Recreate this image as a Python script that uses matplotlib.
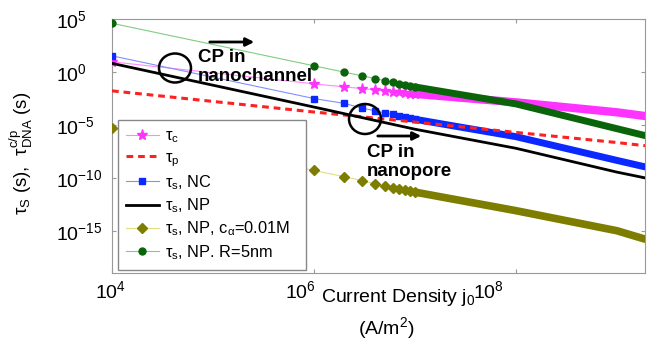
"""Spin/translocation time scales vs current density (log-log)."""

import matplotlib

matplotlib.use("Agg")
import matplotlib.pyplot as plt
from matplotlib.lines import Line2D
from matplotlib.patches import Ellipse
from matplotlib.transforms import ScaledTranslation

plt.rcParams["font.family"] = ["Liberation Sans", "DejaVu Sans"]
plt.rcParams["mathtext.fontset"] = "custom"
plt.rcParams["mathtext.rm"] = "Liberation Sans"
plt.rcParams["mathtext.it"] = "Liberation Sans:italic"
plt.rcParams["mathtext.default"] = "regular"

# current density j0 (A/m^2): separate markers, then the dense part as a band
j_marks = [1e4, 1e6, 2e6, 3e6, 4e6, 5e6, 6e6, 7e6, 8e6, 9e6, 1e7]
j_band = [1e7, 1e8, 1e9, 1.9e9]
j_line = [1e4, 1e6, 1e7, 1e8, 1e9, 1.9e9]

tau_c_marks = [9.5e0, 7.9e-2, 4.0e-2, 2.8e-2, 2.1e-2, 1.7e-2, 1.4e-2, 1.2e-2, 1.07e-2, 9.5e-3, 8.9e-3]
tau_c_band = [8.9e-3, 1.4e-3, 1.6e-4, 7.1e-5]

tau_p_line = [1.7e-2, 1.7e-4, 1.9e-5, 2.0e-6, 2.2e-7, 1.1e-7]

tau_nc_marks = [3.5e1, 3.2e-3, 1.1e-3, 4.0e-4, 2.2e-4, 1.4e-4, 1.0e-4, 7.4e-5, 5.6e-5, 4.5e-5, 3.5e-5]
tau_nc_band = [3.5e-5, 7.9e-7, 4.5e-9, 1.1e-9]

tau_np_line = [6.8e0, 5.0e-4, 4.0e-6, 6.3e-8, 3.5e-10, 1.0e-10]

tau_conc_marks = [5.1e-6, 5.0e-10, 1.3e-10, 5.5e-11, 2.8e-11, 1.7e-11, 1.2e-11, 8.9e-12, 6.9e-12, 5.5e-12, 4.5e-12]
tau_conc_band = [4.5e-12, 7.9e-14, 1.0e-15, 1.6e-16]

tau_r5_marks = [4.2e4, 4.0e0, 1.0e0, 4.5e-1, 2.5e-1, 1.6e-1, 1.1e-1, 8.1e-2, 6.3e-2, 4.9e-2, 4.0e-2]
tau_r5_band = [4.0e-2, 1.0e-3, 4.5e-6, 1.0e-6]

W, H = 655, 343


def fx(px):
    return px / W


def fy(py):
    return 1 - py / H


fig = plt.figure(figsize=(W / 100, H / 100), dpi=100)
ax = fig.add_axes([fx(112), fy(273), fx(645) - fx(112), fy(19.3) - fy(273)])
ax.set_xscale("log")
ax.set_yscale("log")

marker_series = [
    (tau_c_marks, tau_c_band, "#ff33ff", "#ff88ff", "*", 8, 6.0, r"$\tau_c$"),
    (tau_nc_marks, tau_nc_band, "#0a28ff", "#8090ff", "s", 5, 5.0, r"$\tau_s$, NC"),
    (tau_conc_marks, tau_conc_band, "#7d7d00", "#e0e080", "D", 5, 5.5, r"$\tau_s$, NP, $c_\alpha$=0.01M"),
    (tau_r5_marks, tau_r5_band, "#0a640a", "#80cc80", "o", 5, 5.0, r"$\tau_s$, NP. R=5nm"),
]
leg_items = []
for ys, yb, col, lcol, mk, ms, bw, label in marker_series:
    ax.plot(j_band, yb, color=col, lw=bw, solid_capstyle="round", zorder=3)
    ax.plot(j_marks + j_band[1:], ys + yb[1:], color=lcol, lw=0.8, zorder=2)
    ax.plot(j_marks, ys, ls="none", marker=mk, ms=ms, color=col, mec=col, zorder=3)
    leg_items.append((Line2D([], [], color=lcol, lw=0.8, marker=mk, ms=ms,
                             mfc=col, mec=col), label))

(hp,) = ax.plot(j_line, tau_p_line, color="#ff2020", lw=2.2, ls=(0, (2.2, 1.6)), zorder=4)
(hn,) = ax.plot(j_line, tau_np_line, color="black", lw=2.0, zorder=4)

ax.set_xlim(1e4, 1.9e9)
ax.set_ylim(1e-19, 1e5)
ax.set_xticks([1e4, 1e6, 1e8])
ax.set_yticks([1e5, 1e0, 1e-5, 1e-10, 1e-15])
ax.minorticks_off()
ax.tick_params(which="both", direction="in", top=True, right=True, length=3,
               color="#999999", labelsize=14)
ax.tick_params(axis="y", pad=40)
ax.tick_params(axis="x", pad=5)
for lab in ax.get_yticklabels():
    lab.set_horizontalalignment("left")
# the x tick labels sit a little left of their ticks in the original
for lab, dx in zip(ax.get_xticklabels(), [-2, -14, -27]):
    lab.set_transform(lab.get_transform() + ScaledTranslation(dx / 100, 0, fig.dpi_scale_trans))
for sp in ax.spines.values():
    sp.set_color("#999999")

ax.set_ylabel(r"$\tau_S$ (s),  $\tau_{DNA}^{c/p}$ (s)", fontsize=13.5)
ax.yaxis.set_label_coords(-0.145, 0.47)
fig.text(fx(398), fy(297), r"Current Density $j_0$", fontsize=14, ha="center", va="center")
fig.text(fx(386), fy(328), r"(A/m$^2$)", fontsize=14, ha="center", va="center")

order = [leg_items[0], (hp, r"$\tau_p$"), leg_items[1], (hn, r"$\tau_s$, NP"),
         leg_items[2], leg_items[3]]
leg = ax.legend([h for h, _ in order], [l for _, l in order], loc="lower left",
                bbox_to_anchor=(0.011, 0.012, 0.353, 0.6), mode="expand",
                borderaxespad=0, fontsize=11.8, labelspacing=0.28, handlelength=2.0,
                handletextpad=0.35, borderpad=0.5, fancybox=False, framealpha=1,
                edgecolor="#888888")
leg.get_frame().set_linewidth(1.0)

# circles and arrows marking the crossover points
for cx, cy, w, h in [(175, 68, 32, 29), (365, 119, 32, 30)]:
    ax.add_patch(Ellipse((fx(cx), fy(cy)), w / W, h / H, transform=fig.transFigure,
                         fill=False, ec="black", lw=1.8, zorder=6))
for x0, x1, y in [(207, 257, 42), (375, 424, 136)]:
    ax.annotate("", xy=(fx(x1), fy(y)), xytext=(fx(x0), fy(y)),
                xycoords="figure fraction", textcoords="figure fraction",
                arrowprops=dict(arrowstyle="-|>", color="black", lw=2,
                                mutation_scale=12))
fig.text(fx(198), fy(67), "CP in\nnanochannel", fontsize=13.5, fontweight="bold",
         ha="left", va="center", linespacing=1.15)
fig.text(fx(367), fy(162), "CP in\nnanopore", fontsize=13.5, fontweight="bold",
         ha="left", va="center", linespacing=1.1)

fig.savefig("out.png", dpi=100)
